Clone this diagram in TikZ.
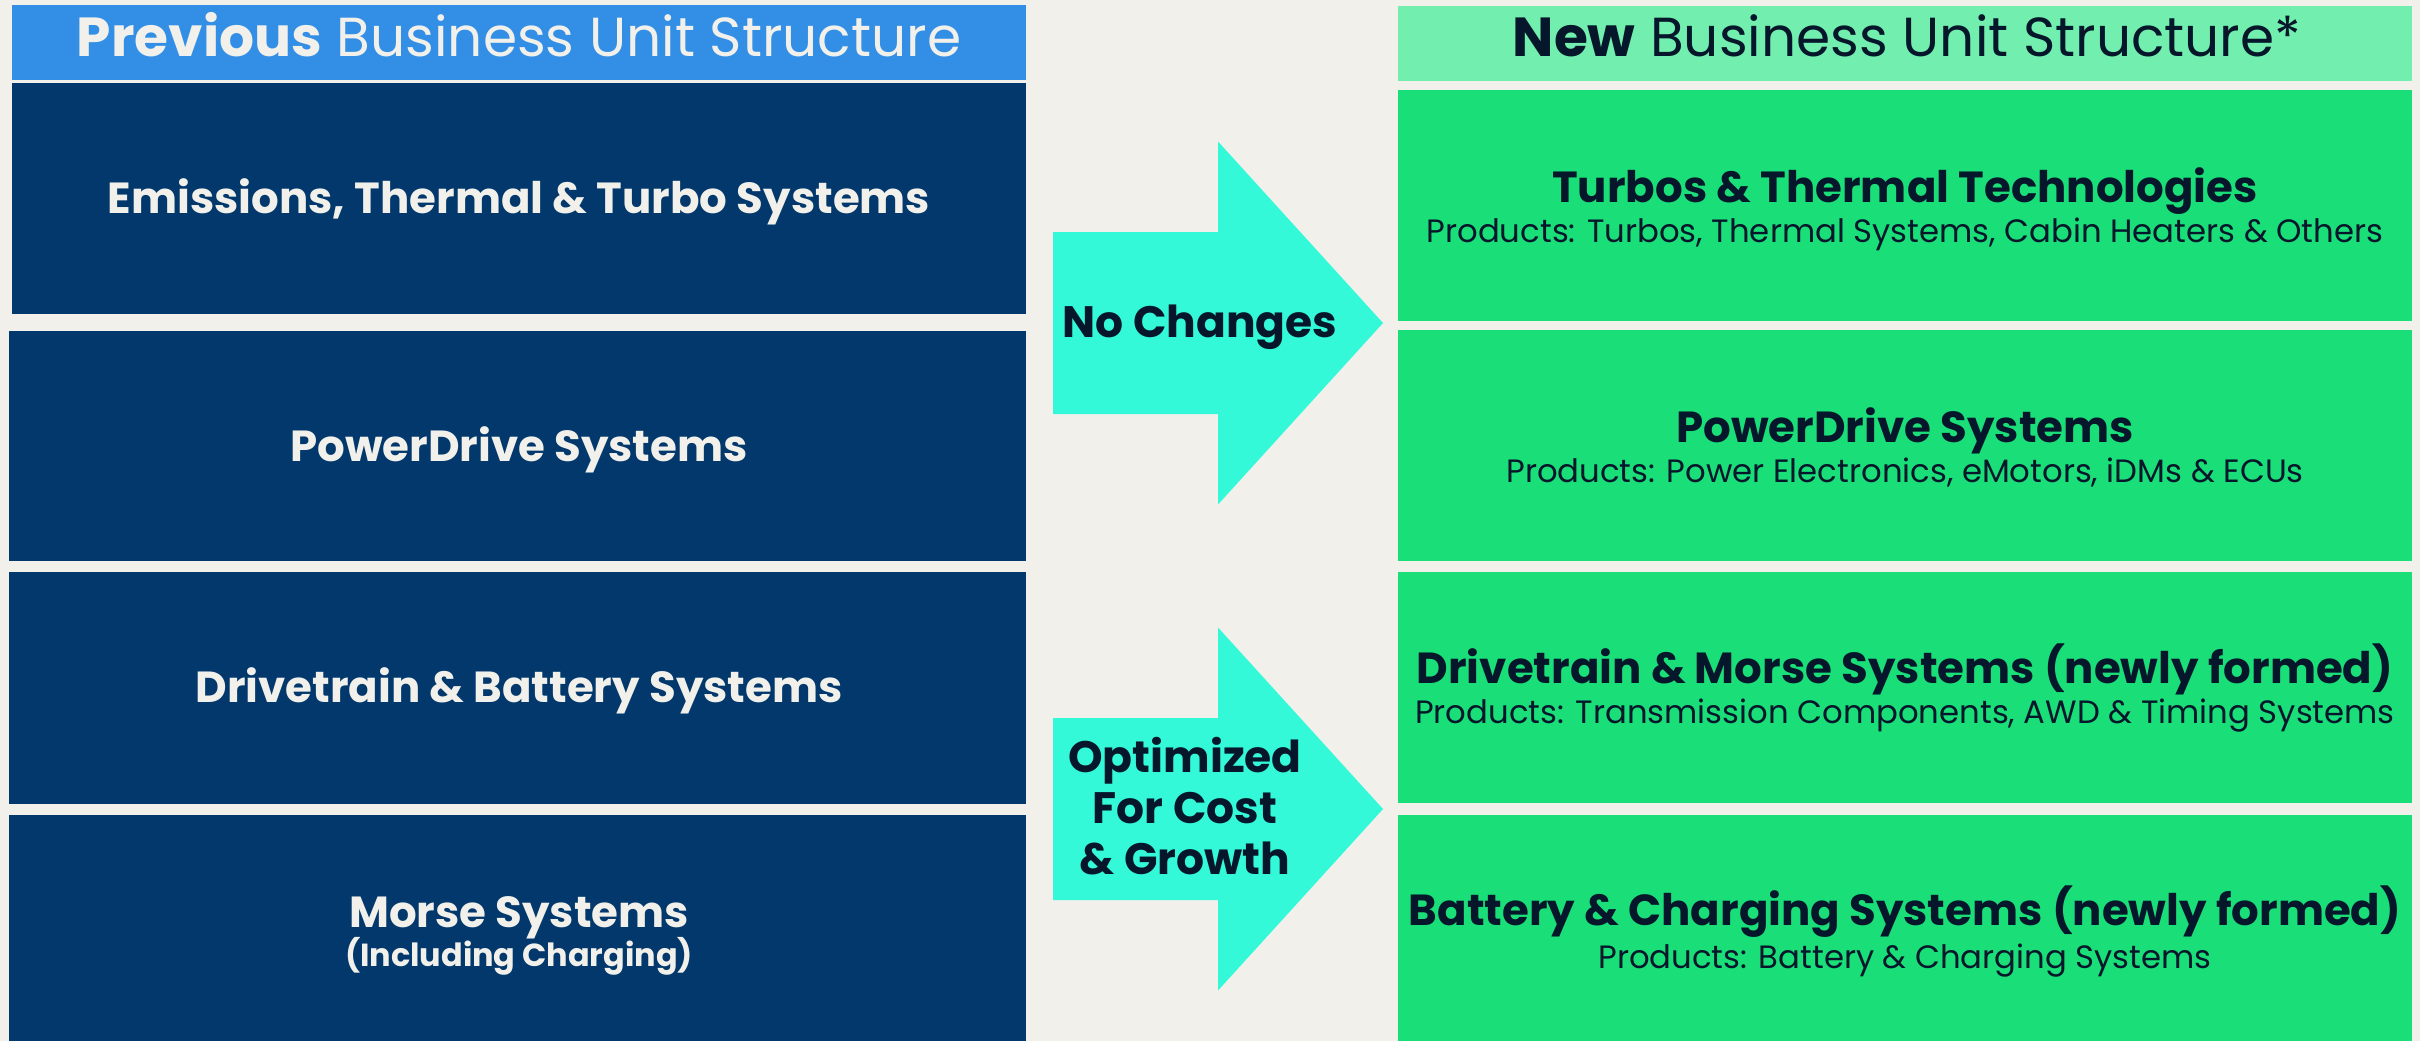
\documentclass[tikz,border=0pt]{standalone}
\usepackage{fontspec}
\setmainfont{Poppins}
\definecolor{bgcream}{HTML}{F1F0EB}
\definecolor{oldblue}{HTML}{338FE5}
\definecolor{navy}{HTML}{02386B}
\definecolor{newlight}{HTML}{72EFAE}
\definecolor{newgreen}{HTML}{1ADF78}
\definecolor{aqua}{HTML}{33F9D8}
\definecolor{inkdark}{HTML}{06172B}
\tikzset{
  unitbox/.style={rectangle, inner sep=0pt, anchor=north west},
  headtext/.style={anchor=base, inner sep=0pt, font=\fontsize{55}{65}\selectfont},
  oldtitle/.style={anchor=base, inner sep=0pt, text=bgcream, font=\bfseries\fontsize{43.5}{51}\selectfont},
  newtitle/.style={anchor=base, inner sep=0pt, text=inkdark, font=\bfseries\fontsize{43.5}{51}\selectfont},
  newprod/.style={anchor=base, inner sep=0pt, text=inkdark, font=\fontsize{32.3}{38}\selectfont},
  arrowtext/.style={anchor=base, inner sep=0pt, text=inkdark, font=\bfseries\fontsize{44}{52}\selectfont},
}
\begin{document}
\begin{tikzpicture}[x=1pt,y=-1pt]
            \useasboundingbox (0,0) rectangle (2420,1041);
            \fill[bgcream] (0,0) rectangle (2420,1041);
            % previous structure
            \node[unitbox, fill=oldblue, minimum width=1014pt, minimum height=75pt] (oldhead) at (12,5) {};
            \node[unitbox, fill=navy, minimum width=1014pt, minimum height=231pt] (old1) at (12,83) {};
            \node[unitbox, fill=navy, minimum width=1017pt, minimum height=230pt] (old2) at (9,331) {};
            \node[unitbox, fill=navy, minimum width=1017pt, minimum height=232pt] (old3) at (9,572) {};
            \node[unitbox, fill=navy, minimum width=1017pt, minimum height=226pt] (old4) at (9,815) {};
            \node[headtext, text=bgcream] (oldheadtext) at (519,57) {\textbf{Previous} Business Unit Structure};
            \node[oldtitle] (old1text) at (519,213) {Emissions, Thermal \& Turbo Systems};
            \node[oldtitle] (old2text) at (519,461) {PowerDrive Systems};
            \node[oldtitle] (old3text) at (519,702) {Drivetrain \& Battery Systems};
            \node[oldtitle] (old4text) at (519,927) {Morse Systems};
            \node[oldtitle, font=\bfseries\fontsize{31.9}{38}\selectfont] (old4sub) at (519,966) {(Including Charging)};
            % new structure
            \node[unitbox, fill=newlight, minimum width=1014pt, minimum height=75pt] (newhead) at (1398,6) {};
            \node[unitbox, fill=newgreen, minimum width=1014pt, minimum height=231pt] (new1) at (1398,90) {};
            \node[unitbox, fill=newgreen, minimum width=1014pt, minimum height=231pt] (new2) at (1398,330) {};
            \node[unitbox, fill=newgreen, minimum width=1014pt, minimum height=231pt] (new3) at (1398,572) {};
            \node[unitbox, fill=newgreen, minimum width=1014pt, minimum height=226pt] (new4) at (1398,815) {};
            \node[headtext, text=inkdark] (newheadtext) at (1907,57) {\textbf{New} Business Unit Structure*};
            \node[newtitle] (new1text) at (1905,202) {Turbos \& Thermal Technologies};
            \node[newprod] (new1prod) at (1905,242) {Products: Turbos, Thermal Systems, Cabin Heaters \& Others};
            \node[newtitle] (new2text) at (1905,442) {PowerDrive Systems};
            \node[newprod] (new2prod) at (1905,482) {Products: Power Electronics, eMotors, iDMs \& ECUs};
            \node[newtitle] (new3text) at (1905,683) {Drivetrain \& Morse Systems (newly formed)};
            \node[newprod] (new3prod) at (1905,723) {Products: Transmission Components, AWD \& Timing Systems};
            \node[newtitle] (new4text) at (1905,925) {Battery \& Charging Systems (newly formed)};
            \node[newprod] (new4prod) at (1905,968) {Products: Battery \& Charging Systems};
            % arrows
            \foreach \i/\yc in {1/323, 2/809} {
              \coordinate (tip\i) at (1383,\yc);
              \fill[aqua] (1053,\yc-91) -- (1218,\yc-91) -- (1218,\yc-181.5) -- (tip\i)
                -- (1218,\yc+181.5) -- (1218,\yc+91) -- (1053,\yc+91) -- cycle;
            }
            \node[arrowtext] (nochange) at (1200,337) {No Changes};
            \foreach \line [count=\i] in {Optimized, For Cost, \& Growth}
              \node[arrowtext] (optim\i) at (1185,772+51*\i-51) {\line};
        \end{tikzpicture}
\end{document}
